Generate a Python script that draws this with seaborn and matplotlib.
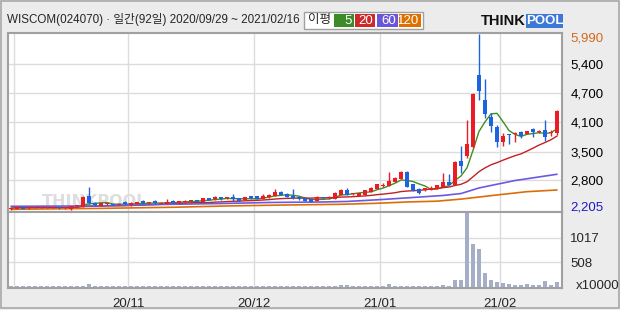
import numpy as np
import pandas as pd
import matplotlib
matplotlib.use('Agg')
import matplotlib.pyplot as plt
import seaborn as sns
from matplotlib.patches import Rectangle
from matplotlib.transforms import blended_transform_factory

# ---------------- data ----------------
opens = [2233, 2233, 2277, 2245, 2250, 2250, 2255, 2245, 2277, 2240,
         2220, 2290, 2264, 2507, 2363, 2292, 2325, 2330, 2320, 2384,
         2307, 2345, 2406, 2350, 2406, 2340, 2340, 2406, 2350, 2385,
         2390, 2400, 2384, 2457, 2436, 2478, 2460, 2492, 2457, 2420,
         2507, 2507, 2449, 2478, 2507, 2600, 2550, 2507, 2492, 2457,
         2436, 2406, 2480, 2470, 2449, 2529, 2636, 2550, 2507, 2529,
         2600, 2658, 2720, 2729, 2815, 2873, 3031, 2759, 2651, 2636,
         2640, 2658, 2694, 2815, 2744, 3261, 3375, 3569, 5113, 4575,
         4215, 4000, 3677, 3830, 3850, 3892, 3843, 3950, 3895, 3929,
         3860, 3858]
highs = [2260, 2285, 2285, 2277, 2270, 2280, 2280, 2275, 2285, 2260,
         2300, 2310, 2500, 2707, 2370, 2360, 2350, 2335, 2350, 2390,
         2370, 2370, 2410, 2384, 2415, 2384, 2436, 2415, 2405, 2420,
         2425, 2415, 2465, 2470, 2500, 2490, 2492, 2540, 2465, 2485,
         2515, 2515, 2550, 2550, 2651, 2610, 2578, 2651, 2500, 2465,
         2445, 2500, 2492, 2507, 2590, 2665, 2673, 2580, 2575, 2645,
         2695, 2770, 2780, 3031, 2910, 3040, 3040, 2770, 2673, 2680,
         2729, 2750, 2996, 2980, 3261, 3590, 4144, 4720, 5990, 5027,
         4288, 4036, 3858, 3843, 3892, 3900, 3915, 3970, 3920, 4144,
         3929, 4359]
lows = [2205, 2225, 2225, 2230, 2245, 2240, 2240, 2240, 2235, 2230,
        2210, 2280, 2260, 2340, 2300, 2285, 2310, 2315, 2310, 2320,
        2300, 2335, 2345, 2330, 2345, 2328, 2330, 2355, 2345, 2350,
        2360, 2385, 2375, 2410, 2425, 2430, 2436, 2400, 2400, 2410,
        2450, 2440, 2440, 2470, 2500, 2520, 2485, 2436, 2430, 2395,
        2370, 2400, 2436, 2436, 2440, 2520, 2520, 2535, 2500, 2520,
        2590, 2650, 2707, 2720, 2808, 2865, 2700, 2615, 2550, 2625,
        2630, 2650, 2690, 2735, 2735, 2996, 3319, 3550, 4575, 4181,
        3892, 3569, 3590, 3627, 3677, 3755, 3835, 3785, 3870, 3692,
        3790, 3830]
closes = [2240, 2277, 2233, 2260, 2260, 2260, 2260, 2265, 2240, 2250,
          2292, 2300, 2492, 2350, 2307, 2350, 2335, 2320, 2330, 2328,
          2363, 2355, 2350, 2360, 2350, 2360, 2384, 2363, 2395, 2395,
          2400, 2395, 2457, 2420, 2492, 2436, 2470, 2436, 2406, 2478,
          2457, 2449, 2507, 2529, 2600, 2529, 2492, 2457, 2436, 2400,
          2378, 2492, 2470, 2480, 2565, 2636, 2529, 2565, 2565, 2636,
          2686, 2759, 2735, 2830, 2901, 3031, 2707, 2621, 2578, 2673,
          2673, 2744, 2815, 2744, 3233, 3160, 3620, 4700, 4775, 4267,
          4021, 3677, 3799, 3815, 3860, 3799, 3907, 3879, 3907, 3785,
          3870, 4338]
volumes = [16, 18, 15, 17, 14, 16, 15, 18, 16, 15,
           17, 16, 20, 60, 18, 15, 16, 14, 15, 17,
           16, 15, 18, 16, 15, 17, 16, 15, 16, 18,
           15, 16, 17, 15, 16, 18, 15, 17, 16, 15,
           16, 17, 15, 18, 20, 16, 15, 17, 16, 15,
           16, 17, 15, 16, 18, 40, 40, 16, 15, 17,
           16, 18, 15, 60, 16, 18, 30, 16, 15, 17,
           16, 18, 35, 16, 145, 145, 1530, 890, 795, 295,
           145, 100, 75, 60, 50, 50, 60, 50, 35, 125,
           40, 100]

ma60_idx = [0, 14, 25, 35, 43, 52, 56, 62, 67, 72, 75, 78, 84, 91]
ma60_val = [2285, 2292, 2324, 2345, 2367, 2378, 2389, 2432, 2475, 2518, 2560, 2680, 2840, 2975]
ma120_idx = [0, 15, 27, 36, 46, 55, 61, 66, 71, 75, 81, 86, 91]
ma120_val = [2220, 2240, 2264, 2292, 2313, 2328, 2350, 2378, 2395, 2440, 2529, 2600, 2636]

month_bounds = [0.5, 19.5, 40.5, 61.5, 81.5]
month_labels = ['', '20/11', '20/12', '21/01', '21/02']
price_ticks = [2850, 3455, 4100, 4725, 5350]
price_labels = ['2,800', '3,500', '4,100', '4,700', '5,400']
vol_ticks = [508, 1017]
vol_labels = ['508', '1017']
max_label, max_value = '5,990', 5990
min_label, min_value = '2,205', 2205
vol_unit = 'x10000'
title = 'WISCOM(024070) · 일간(92일) 2020/09/29 ~ 2021/02/16'
legend_title = '이평'
legend_items = ['5', '20', '60', '120']

# ---------------- style ----------------
RED = '#ec1c24'
BLUE = '#1e62e0'
C5, C20, C60, C120 = '#3d8f22', '#c22026', '#6a5ae0', '#dc6e0a'
LEG_COLS = ['#3c8a28', '#cc2a2a', '#6858d8', '#de7000']
GRID = '#dcdcdc'
SPINE = '#a0a0a0'
BG = '#ececec'

sns.set_style('white')
plt.rcParams['font.family'] = ['Liberation Sans', 'Noto Sans CJK KR', 'DejaVu Sans']

W, H = 620, 310
fig = plt.figure(figsize=(W / 100, H / 100), dpi=100, facecolor=BG)


def rect(x0, y0, x1, y1):
    return [x0 / W, 1 - y1 / H, (x1 - x0) / W, (y1 - y0) / H]


ov = fig.add_axes([0, 0, 1, 1])
ov.set_xlim(0, W)
ov.set_ylim(H, 0)
ov.axis('off')
ov.set_zorder(5)
ov.patch.set_visible(False)

ax = fig.add_axes(rect(8, 33, 562, 212))
axv = fig.add_axes(rect(8, 212, 562, 288), sharex=ax)

o = np.array(opens, float)
c = np.array(closes, float)
h = np.array(highs, float)
l = np.array(lows, float)
x = np.arange(len(o))
cols = np.where(c >= o, RED, BLUE)

# moving averages
ma5 = pd.Series(c).rolling(5, min_periods=1).mean().values
ma20 = pd.Series(c).rolling(20, min_periods=1).mean().values
sns.lineplot(x=x, y=ma5, ax=ax, color=C5, lw=1, zorder=2, estimator=None)
sns.lineplot(x=x, y=ma20, ax=ax, color=C20, lw=1, zorder=2, estimator=None)
sns.lineplot(x=ma60_idx, y=ma60_val, ax=ax, color=C60, lw=1.2, zorder=2, estimator=None)
sns.lineplot(x=ma120_idx, y=ma120_val, ax=ax, color=C120, lw=1.2, zorder=2, estimator=None)

# candles
ax.vlines(x, l, h, colors=cols, lw=1, zorder=3)
body_bot = np.minimum(o, c)
body_h = np.maximum(np.abs(c - o), 22)
ax.bar(x, body_h, bottom=body_bot, width=0.78, color=cols, linewidth=0, zorder=4)

# watermark
ax.text(95, 201, 'THINKPOOL', transform=ov.transData, ha='center', va='center',
        fontsize=11.5, fontweight='bold', color='#dedede', zorder=1, family='DejaVu Sans')

ax.set_xlim(-0.5, 91.83)
ax.set_ylim(2162, 6018)
ax.set_xticks(month_bounds)
ax.set_yticks(price_ticks)
ax.set_yticklabels(price_labels)
ax.yaxis.tick_right()
ax.tick_params(axis='y', length=0, pad=6, labelsize=9.5, labelcolor='black')
ax.tick_params(axis='x', length=0, labelbottom=False)
ax.grid(True, color=GRID, lw=1)
ax.set_axisbelow(True)

tr = blended_transform_factory(ax.transAxes, ax.transData)
ax.text(1 + 8 / 554, max_value - 80, max_label, transform=tr, ha='left', va='center',
        fontsize=9.5, color='#d2691e', clip_on=False)
ax.text(1 + 8 / 554, min_value + 60, min_label, transform=tr, ha='left', va='center',
        fontsize=9.5, color='#1a1ac8', clip_on=False)

# volume
axv.bar(x, volumes, width=0.78, color='#a4aec6', linewidth=0, zorder=3)
axv.set_ylim(-20, 1550)
axv.set_yticks(vol_ticks)
axv.set_yticklabels(vol_labels)
axv.yaxis.tick_right()
axv.tick_params(axis='y', length=0, pad=6, labelsize=9.5)
axv.set_xticks(month_bounds)
axv.set_xticklabels(month_labels)
axv.tick_params(axis='x', length=0, pad=7, labelsize=9.5)
axv.grid(True, color=GRID, lw=1)
axv.set_axisbelow(True)
axv.set_xlim(-0.5, 91.83)

for a in (ax, axv):
    for s in a.spines.values():
        s.set_color(SPINE)
        s.set_linewidth(1.5)
        s.set_visible(True)

ov.text(576, 286, vol_unit, ha='left', va='center', fontsize=9.5)

# header
ov.text(7, 19.5, title, ha='left', va='center', fontsize=8.4,
        family=['Liberation Sans', 'Noto Sans CJK KR'])
ov.add_patch(Rectangle((304, 11.5), 119, 17, fc='white', ec='#a0a0a0', lw=1))
ov.text(308, 20, legend_title, ha='left', va='center', fontsize=9,
        family=['Noto Sans CJK KR'])
boxes = [(334, 20), (355, 20), (377, 21), (399, 22)]
for (bx, bw), lab, col in zip(boxes, legend_items, LEG_COLS):
    ov.add_patch(Rectangle((bx, 14), bw, 13, fc=col, ec='none'))
    ov.text(bx + bw - 2, 20.5, lab, ha='right', va='center', fontsize=9.5, color='white')

# logo
ov.text(481, 21, 'THINK', ha='left', va='center', fontsize=10.5, fontweight='bold', color='#111111')
ov.add_patch(Rectangle((526, 14), 37, 14, fc='#3b78d8', ec='none'))
ov.text(544.5, 21, 'POOL', ha='center', va='center', fontsize=9.5, fontweight='bold', color='white')

# outer frame
ov.add_patch(Rectangle((1, 0.5), 617.5, 307, fill=False, ec='#a8a8a8', lw=1.2))

fig.savefig('out.png', dpi=100, facecolor=BG)
